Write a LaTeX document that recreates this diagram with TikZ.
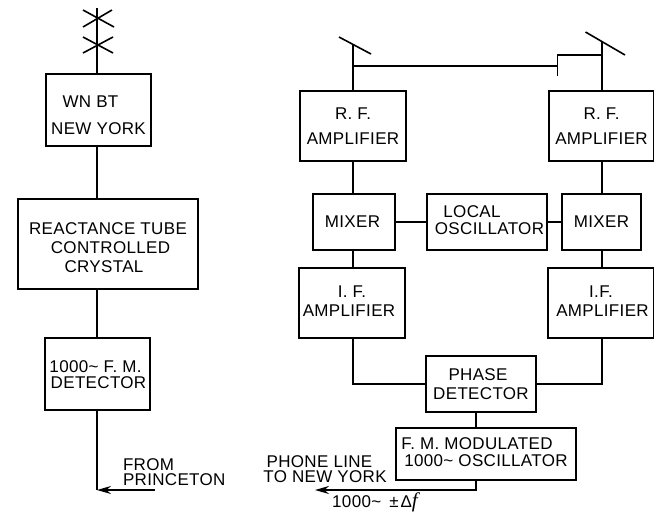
\documentclass[tikz,border=0pt]{standalone}
\usepackage{fontspec}
\setmainfont[LetterSpace=2]{Liberation Sans}
\newfontfamily\fserif{Liberation Serif}
\usetikzlibrary{arrows.meta,calc}
% #1 line spacing, #2 raise of the text block from the box centre, #3 lines
\newcommand\boxtxt[3]{\makebox[0pt]{\raisebox{\dimexpr#2-6.75pt\relax}[0pt][0pt]{\fontsize{17}{#1}\selectfont\begin{tabular}{@{}c@{}}#3\end{tabular}}}}
\newcommand\sh[2]{\hspace*{#1}#2}
\tikzset{
  x=1pt,y=-1pt,
  wire/.style={line width=1.6pt,line join=miter},
  blk/.style={draw,line width=1.6pt,inner sep=0pt,outer sep=0pt,font=\fontsize{17}{19}\selectfont},
  lbl/.style={inner sep=0pt,outer sep=0pt,font=\fontsize{17}{15}\selectfont},
  tip/.style={-{Stealth[length=14pt,width=8pt]}}
}
\begin{document}
\begin{tikzpicture}
\useasboundingbox (0,0) rectangle (654,512);
% left chain
\node[blk,minimum width=105pt,minimum height=72pt] (wnbt) at (98.5,110) {\boxtxt{27pt}{-3pt}{\sh{-16pt}{WN BT}\\NEW YORK}};
\node[blk,minimum width=180pt,minimum height=90pt] (react) at (108,244) {\boxtxt{19pt}{-3.5pt}{REACTANCE TUBE\\\sh{5pt}{CONTROLLED}\\\sh{-8pt}{CRYSTAL}}};
\node[blk,minimum width=105pt,minimum height=72pt] (fmdet) at (97.5,374) {\boxtxt{16pt}{-0.5pt}{\sh{-4pt}{1000\textasciitilde{} F. M.}\\\sh{2pt}{DETECTOR}}};
\coordinate (mastA) at (97,8);
\coordinate (cA) at (97,18);
\coordinate (cB) at (97,45);
\coordinate (corner) at (97,490);
\coordinate (from) at (155,490);
\draw[wire] (mastA) -- (wnbt.north -| mastA);
\draw[wire] ($(cA)+(-14,-8)$) -- ($(cA)+(17,9)$);
\draw[wire] ($(cA)+(-14,9)$) -- ($(cA)+(15,-8)$);
\draw[wire] ($(cB)+(-14,-8)$) -- ($(cB)+(16,8)$);
\draw[wire] ($(cB)+(-14,8)$) -- ($(cB)+(16,-8)$);
\draw[wire] (wnbt.south -| mastA) -- (react.north -| mastA);
\draw[wire] (react.south -| mastA) -- (fmdet.north -| mastA);
\draw[wire] (fmdet.south -| mastA) -- (corner);
\draw[wire,tip] (from) -- (corner);
\node[lbl,anchor=west,align=left] (princeton) at (123,472.5) {FROM\\PRINCETON};
% right diagram
\node[blk,minimum width=106pt,minimum height=70pt] (rfl) at (353,126) {\boxtxt{25pt}{1pt}{R. F.\\AMPLIFIER}};
\node[blk,minimum width=105pt,minimum height=70pt] (rfr) at (601.5,126) {\boxtxt{25pt}{1pt}{R. F.\\AMPLIFIER}};
\node[blk,minimum width=82pt,minimum height=56pt] (mixl) at (354,222) {\boxtxt{19pt}{1pt}{\sh{-3pt}{MIXER}}};
\node[blk,minimum width=120pt,minimum height=56pt] (loc) at (487,222) {\boxtxt{17pt}{1.5pt}{\sh{-30pt}{LOCAL}\\\sh{5pt}{OSCILLATOR}}};
\node[blk,minimum width=79pt,minimum height=56pt] (mixr) at (601.5,222) {\boxtxt{19pt}{1pt}{MIXER}};
\node[blk,minimum width=106pt,minimum height=70pt] (ifl) at (352,303) {\boxtxt{19pt}{2.5pt}{I. F.\\\sh{-6pt}{AMPLIFIER}}};
\node[blk,minimum width=106pt,minimum height=70pt] (ifr) at (601,303) {\boxtxt{19pt}{2.5pt}{I.F.\\\sh{3pt}{AMPLIFIER}}};
\node[blk,minimum width=110pt,minimum height=56pt] (phase) at (481,384) {\boxtxt{19pt}{0.5pt}{\sh{-6pt}{PHASE}\\DETECTOR}};
\node[blk,minimum width=180pt,minimum height=52pt] (fmosc) at (486,454) {\boxtxt{17pt}{1.5pt}{\sh{-18pt}{F. M. MODULATED}\\1000\textasciitilde{} OSCILLATOR}};
\coordinate (mastL) at (353,44);
\coordinate (mastR) at (602,42);
\coordinate (dishLa) at (339,37);
\coordinate (dishLb) at (371,54);
\coordinate (dishRa) at (585.5,32);
\coordinate (dishRb) at (625,55);
\coordinate (tapL) at (353,66);
\coordinate (tapT) at (557.5,66);
\coordinate (stubTop) at (557.5,55);
\coordinate (stubEnd) at (557.5,75.5);
\coordinate (tapR) at (602,55);
\coordinate (lineEnd) at (476,490);
\coordinate (phoneTip) at (315,490);
\draw[wire] (dishLa) -- (dishLb);
\draw[wire] (dishRa) -- (dishRb);
\draw[wire] (mastL) -- (rfl.north -| mastL);
\draw[wire] (mastR) -- (rfr.north -| mastR);
\draw[wire] (tapL) -- (tapT);
\draw[wire] (tapR) -- (stubTop) -- (stubEnd);
\draw[wire] (rfl.south -| mastL) -- (mixl.north -| mastL);
\draw[wire] (rfr.south -| mastR) -- (mixr.north -| mastR);
\draw[wire] (mixl.south -| mastL) -- (ifl.north -| mastL);
\draw[wire] (mixr.south -| mastR) -- (ifr.north -| mastR);
\draw[wire] (mixl.east) -- (loc.west);
\draw[wire] (loc.east) -- (mixr.west);
\draw[wire] (ifl.south -| mastL) |- (phase.west);
\draw[wire] (ifr.south -| mastR) |- (phase.east);
\draw[wire] (phase.south -| lineEnd) -- (fmosc.north -| lineEnd);
\draw[wire,tip] (fmosc.south -| lineEnd) -- (lineEnd) -- (phoneTip);
\node[lbl,align=center] (phone) at (325,469.5) {\sh{-11pt}{PHONE LINE}\\TO NEW YORK};
\node[lbl] (df) at (375,502) {1000\textasciitilde{}\hspace{8pt}±\hspace{2pt}Δ{\fontsize{21}{21}\selectfont\fserif\itshape f}};
\end{tikzpicture}
\end{document}
